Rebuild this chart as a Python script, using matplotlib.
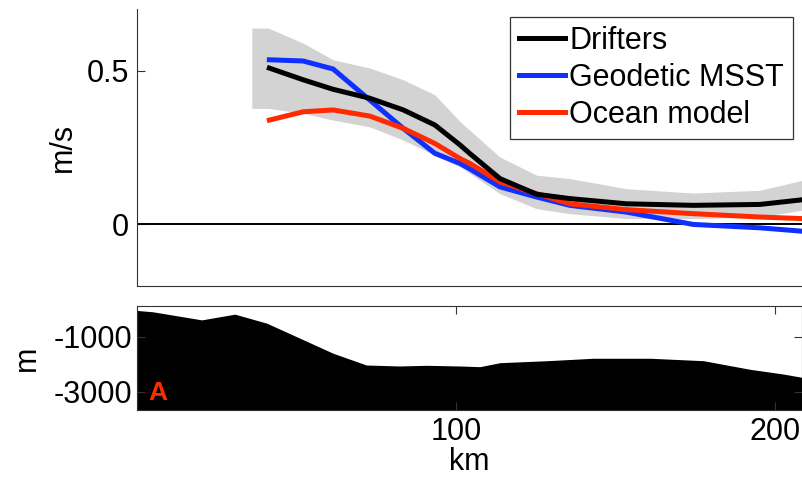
import numpy as np
import matplotlib
matplotlib.use('Agg')
import matplotlib.pyplot as plt

plt.rcParams['font.family'] = ['Liberation Sans', 'DejaVu Sans']
plt.rcParams['axes.unicode_minus'] = False

# along-track distance (km) and surface velocity (m/s)
km = [41.5, 52.1, 61.5, 73.0, 83.5, 93.4, 101.3, 104.4, 113.8, 125.3, 135.7, 153.5, 174.4, 195.3, 208.5]
drifters = [0.508, 0.470, 0.439, 0.410, 0.372, 0.323, 0.258, 0.230, 0.149, 0.098, 0.084, 0.067, 0.062, 0.065, 0.080]
geodetic = [0.535, 0.531, 0.505, 0.404, 0.312, 0.231, 0.198, 0.180, 0.122, 0.089, 0.062, 0.040, 0.0, -0.011, -0.022]
ocean = [0.339, 0.366, 0.372, 0.352, 0.312, 0.263, 0.214, 0.198, 0.138, 0.100, 0.067, 0.048, 0.035, 0.024, 0.019]

# drifter spread (grey band)
band_km = [36.0, 41.2, 52.1, 61.5, 73.0, 83.5, 93.4, 101.3, 113.8, 125.3, 135.7, 153.5, 174.4, 195.3, 208.5]
band_hi = [0.638, 0.638, 0.589, 0.535, 0.508, 0.470, 0.421, 0.334, 0.219, 0.160, 0.149, 0.116, 0.102, 0.111, 0.143]
band_lo = [0.377, 0.377, 0.361, 0.339, 0.317, 0.274, 0.225, 0.187, 0.100, 0.051, 0.035, 0.019, 0.019, 0.024, 0.046]

# bathymetry
bathy_km = [0, 5.0, 20.3, 30.7, 40.7, 51.1, 61.5, 71.9, 82.4, 90.7, 101.3, 107.5, 113.8, 128.6, 143.0, 161.0,
            177.6, 192.2, 202.6, 208.5]
bathy_m = [-50, -100, -393, -185, -513, -1058, -1604, -2029, -2065, -2040, -2065, -2090, -1945, -1873,
           -1785, -1785, -1873, -2185, -2356, -2476]

FS = 22
fig = plt.figure(figsize=(8.02, 4.78), dpi=100)
ax1 = fig.add_axes([0.1708, 0.4017, 0.8292, 0.5795])
ax2 = fig.add_axes([0.1708, 0.1423, 0.8292, 0.2175])
xmax = 208.5

ax1.fill_between(band_km, band_lo, band_hi, color='#d3d3d3', lw=0)
ax1.axhline(0, color='black', lw=1.4)
l_geo, = ax1.plot(km, geodetic, color='#1030ff', lw=3.6, label='Geodetic MSST')
l_oce, = ax1.plot(km, ocean, color='#ff2a00', lw=3.6, label='Ocean model')
l_dri, = ax1.plot(km, drifters, color='black', lw=3.6, label='Drifters')
ax1.set_xlim(0, xmax)
ax1.set_ylim(-0.2, 0.7)
ax1.set_xticks([])
ax1.set_yticks([0, 0.5])
ax1.set_yticklabels(['0', '0.5'])
ax1.set_ylabel('m/s', fontsize=FS, labelpad=6)
ax1.spines['top'].set_visible(False)
ax1.spines['right'].set_visible(False)
for s in ax1.spines.values():
    s.set_color('#333333')
ax1.tick_params(axis='y', direction='in', length=6, labelsize=FS, pad=6, color='#333333')
leg = ax1.legend(handles=[l_dri, l_geo, l_oce], loc='upper right', bbox_to_anchor=(0.9865, 0.971),
                 borderaxespad=0, fontsize=FS, handlelength=1.5, handletextpad=0.13,
                 borderpad=0.3, labelspacing=0.22, fancybox=False, framealpha=1)
leg.get_frame().set_edgecolor('#333333')
leg.get_frame().set_linewidth(0.9)

ax2.fill_between(bathy_km, bathy_m, -4000, color='black', lw=0)
ax2.set_xlim(0, xmax)
ax2.set_ylim(-3660, 110)
ax2.set_xticks([100, 200])
ax2.set_yticks([-3000, -1000])
ax2.set_xlabel('km', fontsize=FS, labelpad=0)
ax2.set_ylabel('m', fontsize=FS, labelpad=8)
for s in ax2.spines.values():
    s.set_color('#333333')
ax2.tick_params(direction='in', length=6, labelsize=FS, top=True, right=True, color='#333333')
ax2.tick_params(axis='x', pad=5)
ax2.text(0.017, 0.1, 'A', transform=ax2.transAxes, color='#ff2a00', fontsize=19,
         fontweight='bold')

fig.savefig('out.png', dpi=100)
